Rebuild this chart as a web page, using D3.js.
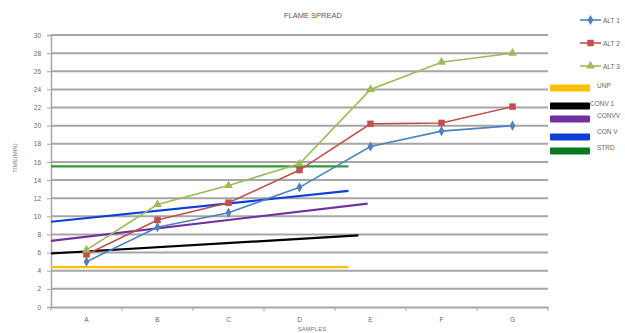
<!DOCTYPE html>
<html><head><meta charset="utf-8">
<script src="https://cdn.jsdelivr.net/npm/d3@7"></script>
<style>body{margin:0;background:#fff}svg{display:block;font-family:"Liberation Sans",Arial,sans-serif}</style>
</head><body><svg id="c" width="625" height="333"></svg>
<script>
const categories = ["A","B","C","D","E","F","G"];
const alt1 = [5.0, 8.8, 10.4, 13.2, 17.7, 19.4, 20.0];
const alt2 = [5.8, 9.6, 11.5, 15.1, 20.2, 20.3, 22.1];
const alt3 = [6.3, 11.3, 13.4, 15.8, 24.0, 27.0, 28.0];
const yTicks = [0,2,4,6,8,10,12,14,16,18,20,22,24,26,28,30];
// reference lines: [start value, end value, end position in category units]
const unp   = [4.4, 4.4, 4.19];
const conv1 = [5.9, 7.9, 4.33];
const convv = [7.3, 11.4, 4.46];
const conV  = [9.4, 12.8, 4.19];
const strd  = [15.5, 15.5, 4.19];

const svg = d3.select("#c");
const L = 51, R = 548, T = 35, B = 307;
const x = d3.scaleBand().domain(categories).range([L, R]);
const xu = d3.scaleLinear().domain([0, 7]).range([L, R]);
const y = d3.scaleLinear().domain([0, 30]).range([B, T]);
const txt = "#666";

// gridlines
svg.append("g").selectAll("line").data(yTicks.filter(d => d > 0)).join("line")
  .attr("x1", L).attr("x2", R).attr("y1", d => y(d)).attr("y2", d => y(d))
  .attr("stroke", "#a6a6a6").attr("stroke-width", 2);

// axes
const ya = svg.append("g").attr("transform", `translate(${L},0)`)
  .call(d3.axisLeft(y).tickValues(yTicks).tickSize(4).tickPadding(6).tickFormat(d3.format("d")));
ya.select(".domain").attr("stroke", "#a6a6a6").attr("stroke-width", 1.5);
ya.selectAll(".tick line").attr("stroke", "#a6a6a6");
ya.selectAll("text").attr("fill", txt).attr("font-size", 6.5);

const xa = svg.append("g").attr("transform", `translate(0,${B})`)
  .call(d3.axisBottom(x).tickSize(0).tickPadding(10));
xa.select(".domain").attr("stroke", "#a6a6a6").attr("stroke-width", 2);
xa.selectAll("text").attr("fill", txt).attr("font-size", 6.5);
svg.append("g").selectAll("line").data(d3.range(8)).join("line")
  .attr("x1", d => xu(d)).attr("x2", d => xu(d)).attr("y1", B).attr("y2", B + 4)
  .attr("stroke", "#a6a6a6");

// reference lines
const refs = [
  {name:"UNP", d:unp, c:"#FFC000"},
  {name:"CONV 1", d:conv1, c:"#000000"},
  {name:"CONVV", d:convv, c:"#7030A0"},
  {name:"CON V", d:conV, c:"#0B3FD6"},
  {name:"STRD", d:strd, c:"#2E9B38"}
];
svg.append("g").selectAll("line").data(refs).join("line")
  .attr("x1", xu(0)).attr("x2", r => xu(r.d[2]))
  .attr("y1", r => y(r.d[0])).attr("y2", r => y(r.d[1]))
  .attr("stroke", r => r.c).attr("stroke-width", 2.2);

// series
const series = [
  {name:"ALT 1", v:alt1, c:"#4F81BD", sym:d3.symbolDiamond, s:30},
  {name:"ALT 2", v:alt2, c:"#C0504D", sym:d3.symbolSquare, s:42},
  {name:"ALT 3", v:alt3, c:"#9BBB59", sym:d3.symbolTriangle, s:34}
];
const cx = c => x(c) + x.bandwidth() / 2;
const line = d3.line().x((d, i) => cx(categories[i])).y(d => y(d));
series.forEach(s => {
  svg.append("path").datum(s.v).attr("d", line).attr("fill", "none")
    .attr("stroke", s.c).attr("stroke-width", 1.6);
  svg.append("g").selectAll("path").data(s.v).join("path")
    .attr("transform", (d, i) => `translate(${cx(categories[i])},${y(d)})`)
    .attr("d", d3.symbol().type(s.sym).size(s.s)).attr("fill", s.c);
});

// title & axis titles
svg.append("text").attr("x", 313).attr("y", 18).attr("text-anchor", "middle")
  .attr("font-size", 7.5).attr("fill", "#595959").text("FLAME SPREAD");
svg.append("text").attr("x", 312).attr("y", 331).attr("text-anchor", "middle")
  .attr("font-size", 6).attr("fill", "#777").text("SAMPLES");
svg.append("text").attr("transform", "translate(17,158) rotate(-90)").attr("text-anchor", "middle")
  .attr("font-size", 6).attr("fill", "#777").text("TIME(MIN)");

// legend
const lg = svg.append("g");
series.forEach((s, i) => {
  const yy = 20 + i * 23;
  lg.append("line").attr("x1", 580).attr("x2", 601).attr("y1", yy).attr("y2", yy)
    .attr("stroke", s.c).attr("stroke-width", 1.6);
  lg.append("path").attr("transform", `translate(590.5,${yy})`)
    .attr("d", d3.symbol().type(s.sym).size(s.s)).attr("fill", s.c);
  lg.append("text").attr("x", 603).attr("y", yy + 2.5).attr("font-size", 6.5)
    .attr("fill", txt).text(s.name);
});
const swY = [88, 106, 119, 137, 151];
const txY = [88, 106, 118, 134, 150];
const txX = [597, 590, 597, 597, 597];
refs.forEach((r, i) => {
  lg.append("rect").attr("x", 550).attr("y", swY[i] - 3.5).attr("width", 40).attr("height", 7)
    .attr("rx", 1).attr("fill", r.name === "STRD" ? "#077A1F" : r.c);
  lg.append("text").attr("x", txX[i]).attr("y", txY[i]).attr("font-size", 6.5)
    .attr("fill", txt).text(r.name);
});
</script></body></html>
